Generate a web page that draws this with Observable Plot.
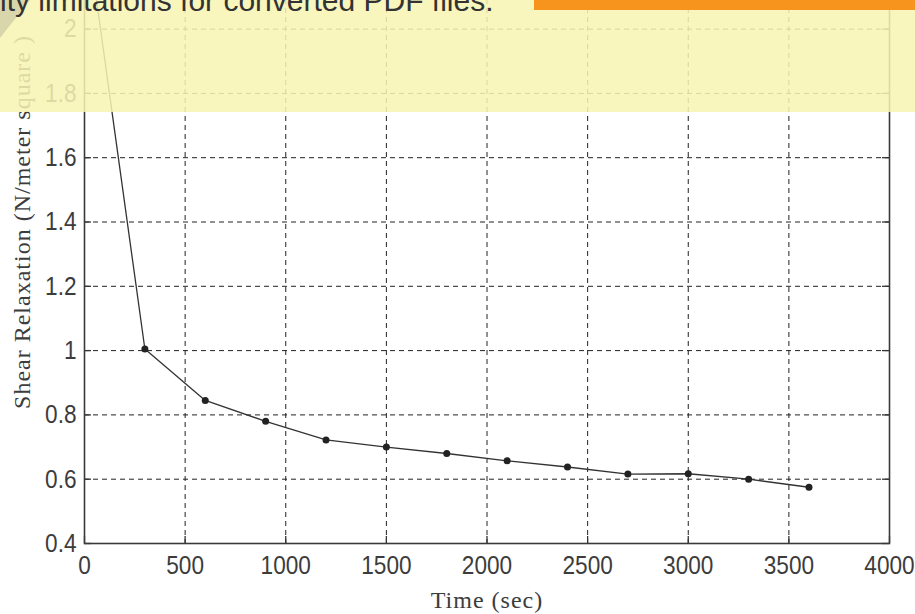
<!DOCTYPE html>
<html>
<head>
<meta charset="utf-8">
<script src="https://cdn.jsdelivr.net/npm/d3@7"></script>
<script src="https://cdn.jsdelivr.net/npm/@observablehq/plot@0.6"></script>
<style>
  html, body { margin: 0; padding: 0; background: #fff; }
  #wrap { position: relative; width: 915px; height: 614px; overflow: hidden; background: #fff; }
  #chart { position: absolute; left: 0; top: -100px; }
  #overlay { position: absolute; left: 0; top: 0; width: 915px; height: 112px; background: rgba(247, 243, 178, 0.86); }
  #tri { position: absolute; left: 0; top: 0; width: 30px; height: 38px; background: #d9d6ab; clip-path: polygon(0 0, 100% 0, 0 100%); }
  #banner { position: absolute; left: 0; top: -14px; font-family: "Liberation Sans", Arial, sans-serif; font-size: 30px; line-height: 30px; color: #333; white-space: nowrap; }
  #orange { position: absolute; left: 534px; top: 0; width: 381px; height: 10px; background: #f7941e; }
</style>
</head>
<body>
<div id="wrap">
  <div id="chart"></div>
  <div id="overlay"></div>
  <div id="tri"></div>
  <div id="banner">ity limitations for converted PDF files.</div>
  <div id="orange"></div>
</div>
<script>
// Data
const times = [0, 300, 600, 900, 1200, 1500, 1800, 2100, 2400, 2700, 3000, 3300, 3600];
const relaxation = [2.36, 1.005, 0.845, 0.78, 0.722, 0.70, 0.68, 0.657, 0.638, 0.616, 0.617, 0.60, 0.575];

const xTicks = [0, 500, 1000, 1500, 2000, 2500, 3000, 3500, 4000];
const xTickLabels = ["0", "500", "1000", "1500", "2000", "2500", "3000", "3500", "4000"];
const yTicks = [0.4, 0.6, 0.8, 1.0, 1.2, 1.4, 1.6, 1.8, 2.0, 2.2, 2.4];
const yTickLabels = ["0.4", "0.6", "0.8", "1", "1.2", "1.4", "1.6", "1.8", "2", "2.2", "2.4"];

const xLabel = "Time (sec)";
const yLabel = "Shear Relaxation (N/meter square )";

const data = times.map((t, i) => ({t, v: relaxation[i]}));

const W = 915, H = 714;
const mL = 84, mR = 26, mT = 0, mB = 71;
const innerW = W - mL - mR, innerH = H - mT - mB;
const tickLen = 7;
const gridStyle = {stroke: "#222", strokeWidth: 1, strokeDasharray: "5,4"};
const tickFont = '"Liberation Sans", Arial, sans-serif';
const labelFont = '"Liberation Serif", "Times New Roman", serif';

const chart = Plot.plot({
  width: W,
  height: H,
  marginLeft: mL,
  marginRight: mR,
  marginTop: mT,
  marginBottom: mB,
  style: {background: "transparent", fontFamily: tickFont, fontSize: "26px", color: "#3c3c3c"},
  x: {domain: [0, 4000], ticks: xTicks, tickFormat: d => xTickLabels[xTicks.indexOf(d)], tickSize: 0, tickPadding: 12, label: null},
  y: {domain: [0.4, 2.4], ticks: yTicks, tickFormat: d => yTickLabels[yTicks.indexOf(d)], tickSize: 0, tickPadding: 8, label: null},
  marks: [
    Plot.ruleX(xTicks.slice(1, -1), {x: d => d, ...gridStyle}),
    Plot.ruleY(yTicks.slice(1, -1), {y: d => d, ...gridStyle}),
    // inward ticks
    Plot.ruleX(xTicks, {x: d => d, stroke: "#333", strokeWidth: 1.3, insetTop: innerH - tickLen}),
    Plot.ruleX(xTicks, {x: d => d, stroke: "#333", strokeWidth: 1.3, insetBottom: innerH - tickLen}),
    Plot.ruleY(yTicks, {y: d => d, stroke: "#333", strokeWidth: 1.3, insetRight: innerW - tickLen}),
    Plot.ruleY(yTicks, {y: d => d, stroke: "#333", strokeWidth: 1.3, insetLeft: innerW - tickLen}),
    Plot.frame({stroke: "#3a3a3a", strokeWidth: 1.6}),
    Plot.line(data, {x: "t", y: "v", stroke: "#333", strokeWidth: 1.3}),
    Plot.dot(data, {x: "t", y: "v", r: 3.5, fill: "#222", stroke: "none"}),
    Plot.text([xLabel], {frameAnchor: "bottom", dy: 57, fontFamily: labelFont, fontSize: 24, fill: "#3c3c3c", textAnchor: "middle", lineAnchor: "middle"}),
    Plot.text([yLabel], {frameAnchor: "left", dx: -62, rotate: -90, fontFamily: labelFont, fontSize: 24, fill: "#3c3c3c", textAnchor: "middle", lineAnchor: "middle"})
  ]
});

// Narrow the tick label glyphs (reference uses a condensed screen font)
chart.querySelectorAll("text").forEach(t => {
  const s = t.textContent;
  if (s === xLabel || s === yLabel) {
    t.style.letterSpacing = "1px";
    return;
  }
  if (xTickLabels.includes(s) || yTickLabels.includes(s)) {
    const tr = t.getAttribute("transform") || "";
    t.setAttribute("transform", (tr + " scale(0.87,1)").trim());
  }
});
document.getElementById("chart").appendChild(chart);
</script>
</body>
</html>
